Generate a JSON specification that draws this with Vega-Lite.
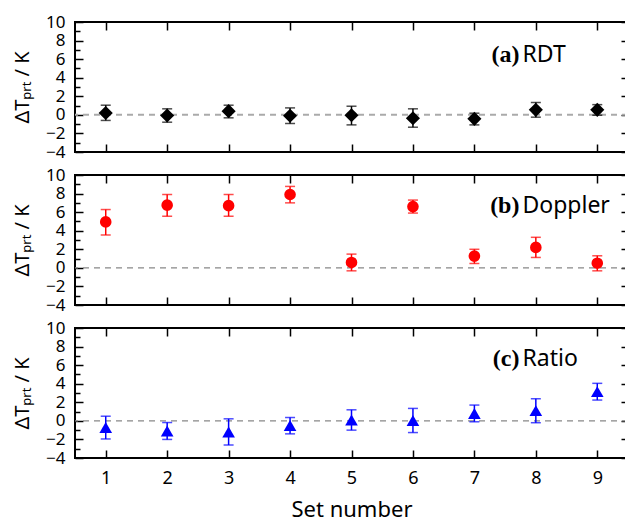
{
  "$schema": "https://vega.github.io/schema/vega-lite/v6.json",
  "padding": {"left": 11, "top": 12, "right": 0, "bottom": 4},
  "spacing": 4,
  "datasets": {
    "rdt": [
      {"set": 1, "v": 0.2, "lo": -0.6, "hi": 1.04},
      {"set": 2, "v": -0.07, "lo": -0.79, "hi": 0.65},
      {"set": 3, "v": 0.4, "lo": -0.32, "hi": 1.04},
      {"set": 4, "v": -0.1, "lo": -0.93, "hi": 0.75},
      {"set": 5, "v": -0.04, "lo": -1.08, "hi": 0.93},
      {"set": 6, "v": -0.36, "lo": -1.33, "hi": 0.65},
      {"set": 7, "v": -0.43, "lo": -1.08, "hi": 0.18},
      {"set": 8, "v": 0.54, "lo": -0.25, "hi": 1.33},
      {"set": 9, "v": 0.54, "lo": -0.04, "hi": 1.1}
    ],
    "doppler": [
      {"set": 1, "v": 4.95, "lo": 3.54, "hi": 6.28},
      {"set": 2, "v": 6.75, "lo": 5.56, "hi": 7.9},
      {"set": 3, "v": 6.7, "lo": 5.56, "hi": 7.9},
      {"set": 4, "v": 7.9, "lo": 7.0, "hi": 8.77},
      {"set": 5, "v": 0.58, "lo": -0.32, "hi": 1.48},
      {"set": 6, "v": 6.6, "lo": 5.9, "hi": 7.3},
      {"set": 7, "v": 1.26, "lo": 0.47, "hi": 2.0},
      {"set": 8, "v": 2.2, "lo": 1.12, "hi": 3.29},
      {"set": 9, "v": 0.5, "lo": -0.32, "hi": 1.3}
    ],
    "ratio": [
      {"set": 1, "v": -0.72, "lo": -1.95, "hi": 0.5},
      {"set": 2, "v": -1.1, "lo": -2.0, "hi": -0.18},
      {"set": 3, "v": -1.2, "lo": -2.6, "hi": 0.22},
      {"set": 4, "v": -0.5, "lo": -1.4, "hi": 0.36},
      {"set": 5, "v": 0.1, "lo": -1.0, "hi": 1.19},
      {"set": 6, "v": 0.04, "lo": -1.26, "hi": 1.34},
      {"set": 7, "v": 0.8, "lo": -0.1, "hi": 1.7},
      {"set": 8, "v": 1.1, "lo": -0.2, "hi": 2.38},
      {"set": 9, "v": 3.15, "lo": 2.24, "hi": 4.04}
    ],
    "zero": [{"z": 0}]
  },
  "vconcat": [
    {
      "width": 553, "height": 130,
      "resolve": {"axis": {"x": "independent", "y": "independent"}},
      "layer": [
        {
          "data": {"name": "zero"},
          "mark": {"type": "rule", "stroke": "#aaaaaa", "strokeWidth": 2, "strokeDash": [6, 5]},
          "encoding": {
            "y": {"field": "z", "type": "quantitative", "scale": {"domain": [-4, 10], "nice": false, "zero": false},
              "axis": {"orient": "left", "values": [-4, -2, 0, 2, 4, 6, 8, 10], "tickSize": -8, "labelPadding": 18, "title": "ΔTₚᵣₜ / K", "titlePadding": 13}}
          }
        },
        {
          "data": {"name": "rdt"},
          "mark": {"type": "errorbar", "color": "black", "thickness": 1.5, "ticks": {"size": 10, "strokeWidth": 1.5}},
          "encoding": {
            "x": {"field": "set", "type": "quantitative", "scale": {"domain": [0.5, 9.5], "nice": false, "zero": false},
              "axis": {"orient": "bottom", "values": [1, 2, 3, 4, 5, 6, 7, 8, 9], "tickSize": -8, "labels": false, "title": null}},
            "y": {"field": "lo", "type": "quantitative", "scale": {"domain": [-4, 10], "nice": false, "zero": false},
              "axis": {"orient": "right", "values": [-4, -2, 0, 2, 4, 6, 8, 10], "tickSize": -7, "labels": false, "title": null}},
            "y2": {"field": "hi"}
          }
        },
        {
          "data": {"name": "rdt"},
          "mark": {"type": "point", "shape": "diamond", "filled": true, "color": "black", "size": 200, "opacity": 1},
          "encoding": {
            "x": {"field": "set", "type": "quantitative", "scale": {"domain": [0.5, 9.5], "nice": false, "zero": false},
              "axis": {"orient": "top", "values": [1, 2, 3, 4, 5, 6, 7, 8, 9], "tickSize": -8, "labels": false, "title": null}},
            "y": {"field": "v", "type": "quantitative", "scale": {"domain": [-4, 10], "nice": false, "zero": false},
              "axis": {"orient": "left", "values": [-3, -1, 1, 3, 5, 7, 9], "tickSize": -5, "labels": false, "title": null}}
          }
        },
        {
          "data": {"values": [{"x": 7.75, "y": 6.5, "tag": "(a)", "name": "RDT"}]},
          "layer": [
            {
              "mark": {"type": "text", "align": "right", "baseline": "middle", "dx": -1, "font": "Liberation Serif", "fontWeight": "bold", "fontSize": 24, "color": "black"},
              "encoding": {
                "x": {"field": "x", "type": "quantitative", "axis": null},
                "y": {"field": "y", "type": "quantitative", "axis": {"orient": "right", "values": [-3, -1, 1, 3, 5, 7, 9], "tickSize": -5, "labels": false, "title": null}},
                "text": {"field": "tag"}
              }
            },
            {
              "mark": {"type": "text", "align": "left", "baseline": "middle", "dx": 2, "font": "Noto Sans", "fontSize": 23, "color": "black"},
              "encoding": {
                "x": {"field": "x", "type": "quantitative", "axis": null},
                "y": {"field": "y", "type": "quantitative", "axis": null},
                "text": {"field": "name"}
              }
            }
          ]
        }
      ]
    },
    {
      "width": 553, "height": 130,
      "resolve": {"axis": {"x": "independent", "y": "independent"}},
      "layer": [
        {
          "data": {"name": "zero"},
          "mark": {"type": "rule", "stroke": "#888888", "strokeWidth": 1.3, "strokeDash": [6, 5]},
          "encoding": {
            "y": {"field": "z", "type": "quantitative", "scale": {"domain": [-4, 10], "nice": false, "zero": false},
              "axis": {"orient": "left", "values": [-4, -2, 0, 2, 4, 6, 8, 10], "tickSize": -8, "labelPadding": 18, "title": "ΔTₚᵣₜ / K", "titlePadding": 13}}
          }
        },
        {
          "data": {"name": "doppler"},
          "mark": {"type": "errorbar", "color": "#ff0000", "thickness": 1.5, "ticks": {"size": 10, "strokeWidth": 1.5}},
          "encoding": {
            "x": {"field": "set", "type": "quantitative", "scale": {"domain": [0.5, 9.5], "nice": false, "zero": false},
              "axis": {"orient": "bottom", "values": [1, 2, 3, 4, 5, 6, 7, 8, 9], "tickSize": -8, "labels": false, "title": null}},
            "y": {"field": "lo", "type": "quantitative", "scale": {"domain": [-4, 10], "nice": false, "zero": false},
              "axis": {"orient": "right", "values": [-4, -2, 0, 2, 4, 6, 8, 10], "tickSize": -7, "labels": false, "title": null}},
            "y2": {"field": "hi"}
          }
        },
        {
          "data": {"name": "doppler"},
          "mark": {"type": "point", "shape": "circle", "filled": true, "color": "#ff0000", "size": 135, "opacity": 1},
          "encoding": {
            "x": {"field": "set", "type": "quantitative", "scale": {"domain": [0.5, 9.5], "nice": false, "zero": false},
              "axis": {"orient": "top", "values": [1, 2, 3, 4, 5, 6, 7, 8, 9], "tickSize": -8, "labels": false, "title": null}},
            "y": {"field": "v", "type": "quantitative", "scale": {"domain": [-4, 10], "nice": false, "zero": false},
              "axis": {"orient": "left", "values": [-3, -1, 1, 3, 5, 7, 9], "tickSize": -5, "labels": false, "title": null}}
          }
        },
        {
          "data": {"values": [{"x": 7.75, "y": 6.7, "tag": "(b)", "name": "Doppler"}]},
          "layer": [
            {
              "mark": {"type": "text", "align": "right", "baseline": "middle", "dx": -1, "font": "Liberation Serif", "fontWeight": "bold", "fontSize": 24, "color": "black"},
              "encoding": {
                "x": {"field": "x", "type": "quantitative", "axis": null},
                "y": {"field": "y", "type": "quantitative", "axis": {"orient": "right", "values": [-3, -1, 1, 3, 5, 7, 9], "tickSize": -5, "labels": false, "title": null}},
                "text": {"field": "tag"}
              }
            },
            {
              "mark": {"type": "text", "align": "left", "baseline": "middle", "dx": 2, "font": "Noto Sans", "fontSize": 23, "color": "black"},
              "encoding": {
                "x": {"field": "x", "type": "quantitative", "axis": null},
                "y": {"field": "y", "type": "quantitative", "axis": null},
                "text": {"field": "name"}
              }
            }
          ]
        }
      ]
    },
    {
      "width": 553, "height": 130,
      "resolve": {"axis": {"x": "independent", "y": "independent"}},
      "layer": [
        {
          "data": {"name": "zero"},
          "mark": {"type": "rule", "stroke": "#888888", "strokeWidth": 1.3, "strokeDash": [6, 5]},
          "encoding": {
            "y": {"field": "z", "type": "quantitative", "scale": {"domain": [-4, 10], "nice": false, "zero": false},
              "axis": {"orient": "left", "values": [-4, -2, 0, 2, 4, 6, 8, 10], "tickSize": -8, "labelPadding": 18, "title": "ΔTₚᵣₜ / K", "titlePadding": 13}}
          }
        },
        {
          "data": {"name": "ratio"},
          "mark": {"type": "errorbar", "color": "#0000ff", "thickness": 1.5, "ticks": {"size": 10, "strokeWidth": 1.5}},
          "encoding": {
            "x": {"field": "set", "type": "quantitative", "scale": {"domain": [0.5, 9.5], "nice": false, "zero": false},
              "axis": {"orient": "bottom", "values": [1, 2, 3, 4, 5, 6, 7, 8, 9], "tickSize": -8, "labels": true, "labelFontSize": 18, "labelPadding": 19, "title": "Set number", "titleFontSize": 22, "titlePadding": 12}},
            "y": {"field": "lo", "type": "quantitative", "scale": {"domain": [-4, 10], "nice": false, "zero": false},
              "axis": {"orient": "right", "values": [-4, -2, 0, 2, 4, 6, 8, 10], "tickSize": -7, "labels": false, "title": null}},
            "y2": {"field": "hi"}
          }
        },
        {
          "data": {"name": "ratio"},
          "mark": {"type": "point", "shape": "triangle-up", "filled": true, "color": "#0000ff", "size": 160, "opacity": 1},
          "encoding": {
            "x": {"field": "set", "type": "quantitative", "scale": {"domain": [0.5, 9.5], "nice": false, "zero": false},
              "axis": {"orient": "top", "values": [1, 2, 3, 4, 5, 6, 7, 8, 9], "tickSize": -8, "labels": false, "title": null}},
            "y": {"field": "v", "type": "quantitative", "scale": {"domain": [-4, 10], "nice": false, "zero": false},
              "axis": {"orient": "left", "values": [-3, -1, 1, 3, 5, 7, 9], "tickSize": -5, "labels": false, "title": null}}
          }
        },
        {
          "data": {"values": [{"x": 7.75, "y": 6.7, "tag": "(c)", "name": "Ratio"}]},
          "layer": [
            {
              "mark": {"type": "text", "align": "right", "baseline": "middle", "dx": -1, "font": "Liberation Serif", "fontWeight": "bold", "fontSize": 24, "color": "black"},
              "encoding": {
                "x": {"field": "x", "type": "quantitative", "axis": null},
                "y": {"field": "y", "type": "quantitative", "axis": {"orient": "right", "values": [-3, -1, 1, 3, 5, 7, 9], "tickSize": -5, "labels": false, "title": null}},
                "text": {"field": "tag"}
              }
            },
            {
              "mark": {"type": "text", "align": "left", "baseline": "middle", "dx": 2, "font": "Noto Sans", "fontSize": 23, "color": "black"},
              "encoding": {
                "x": {"field": "x", "type": "quantitative", "axis": null},
                "y": {"field": "y", "type": "quantitative", "axis": null},
                "text": {"field": "name"}
              }
            }
          ]
        }
      ]
    }
  ],
  "config": {
    "view": {"stroke": "black", "strokeWidth": 2},
    "axis": {
      "domain": false, "grid": false, "tickColor": "black", "tickWidth": 1.5,
      "labelFont": "Noto Sans", "labelFontSize": 17, "labelColor": "black",
      "titleFont": "Noto Sans", "titleFontSize": 20, "titleFontWeight": "normal", "titleColor": "black"
    }
  }
}
